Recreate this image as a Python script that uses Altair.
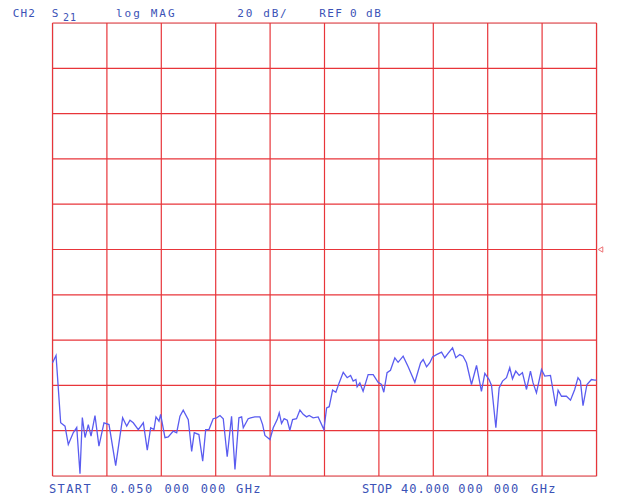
import altair as alt
import pandas as pd

# ---- trace data ----
freq_ghz = [0.05, 0.31, 0.65, 0.97, 1.21, 1.58, 1.83, 2.07, 2.24, 2.44,
            2.68, 2.88, 3.17, 3.46, 3.83, 4.20, 4.69, 5.20, 5.50, 5.74,
            5.98, 6.35, 6.72, 7.01, 7.26, 7.50, 7.65, 7.87, 7.99, 8.31,
            8.55, 8.92, 9.17, 9.41, 9.65, 10.02, 10.27, 10.46, 10.80, 11.08,
            11.30, 11.54, 11.85, 12.10, 12.35, 12.59, 12.88, 13.20, 13.45, 13.74,
            13.94, 14.06, 14.42, 14.60, 14.91, 15.28, 15.48, 15.65, 16.02, 16.26,
            16.55, 16.70, 16.87, 17.06, 17.29, 17.48, 17.68, 17.97, 18.22, 18.46,
            18.71, 18.90, 19.19, 19.56, 19.98, 20.18, 20.37, 20.62, 20.86, 21.10,
            21.40, 21.69, 21.94, 22.13, 22.33, 22.42, 22.62, 22.86, 23.23, 23.60,
            23.96, 24.21, 24.38, 24.62, 24.87, 25.19, 25.43, 25.80, 26.17, 26.66,
            27.08, 27.27, 27.52, 27.76, 27.96, 28.25, 28.62, 28.86, 29.10, 29.43,
            29.67, 29.96, 30.20, 30.45, 30.82, 31.19, 31.55, 31.80, 32.11, 32.29,
            32.61, 32.85, 33.10, 33.39, 33.63, 33.83, 34.07, 34.32, 34.56, 34.86,
            35.15, 35.34, 35.59, 35.96, 36.20, 36.62, 37.01, 37.18, 37.43, 37.79,
            38.09, 38.40, 38.64, 38.82, 39.01, 39.30, 39.63, 39.87, 40.0]

s21_db = [-50.0, -46.8, -76.5, -78.0, -86.1, -80.8, -78.6, -99.0, -74.2, -83.0,
          -77.3, -82.4, -73.3, -86.8, -76.5, -77.3, -95.4, -74.3, -78.0, -75.4,
          -76.5, -79.5, -76.5, -88.6, -78.7, -79.5, -73.9, -75.8, -72.8, -83.1,
          -82.7, -80.2, -80.9, -73.6, -70.9, -75.1, -89.1, -80.9, -81.7, -93.5,
          -79.5, -79.5, -74.7, -74.3, -73.3, -74.7, -91.5, -73.6, -97.1, -74.3,
          -73.9, -78.7, -74.7, -74.3, -73.9, -73.9, -77.3, -82.1, -83.9, -78.7,
          -75.1, -72.1, -76.8, -74.7, -75.4, -79.8, -75.1, -74.7, -70.9, -72.8,
          -73.9, -73.3, -74.3, -73.9, -79.5, -69.9, -69.4, -62.1, -63.0, -58.9,
          -54.2, -56.6, -55.6, -58.1, -57.4, -60.6, -58.9, -62.6, -55.2, -55.2,
          -58.6, -59.6, -63.0, -54.4, -53.3, -47.8, -49.8, -47.1, -51.8, -58.6,
          -50.0, -48.6, -51.8, -50.0, -47.4, -46.4, -45.3, -47.8, -45.9, -43.4,
          -47.8, -46.4, -47.1, -50.0, -59.6, -51.2, -62.6, -54.7, -57.4, -60.0,
          -78.7, -61.1, -58.1, -56.6, -52.2, -57.1, -53.7, -55.6, -54.4, -61.8,
          -53.7, -58.9, -63.3, -53.0, -55.9, -55.6, -69.2, -62.1, -64.8, -64.8,
          -66.5, -61.8, -56.6, -58.1, -68.9, -59.6, -57.4, -57.7, -57.7]

# ---- scale settings ----
start_ghz = 0.05
stop_ghz = 40.0
ref_db = 0
db_per_div = 20
n_div = 10

x_grid = [start_ghz + i * (stop_ghz - start_ghz) / n_div for i in range(n_div + 1)]
y_grid = [ref_db + (i - n_div // 2) * db_per_div for i in range(n_div + 1)]

# ---- annotation text (instrument header / footer) ----
header_words = ["CH2", "S", "21", "log", "MAG", "20", "dB/", "REF", "0", "dB"]
footer_words = ["START", "0.050", "000", "000", "GHz",
                "STOP", "40.000", "000", "000", "GHz"]

W, H = 544, 453
LEFT, TOP = 52.5, 23  # plot origin in page pixels (incl. 8px margin)

header_layout = [  # (x, baseline y, pitch, size) in page pixels
    (12.7, 17, 7.8, 11), (51.7, 17, 8.0, 11), (63.0, 20.5, 7.0, 10),
    (116.0, 17, 8.6, 11), (150.7, 17, 8.6, 11), (237.3, 17, 8.4, 11),
    (263.3, 17, 8.4, 11), (319.3, 17, 8.0, 11), (350.0, 17, 8.0, 11),
    (366.0, 17, 8.2, 11)]
footer_layout = [
    (49.0, 492.5, 8.6, 12), (110.5, 492.5, 8.6, 12), (164.6, 492.5, 8.6, 12),
    (200.7, 492.5, 8.6, 12), (236.1, 492.5, 8.6, 12),
    (362.0, 492.5, 7.6, 12), (401.0, 492.5, 8.2, 12), (458.3, 492.5, 8.6, 12),
    (493.7, 492.5, 8.6, 12), (531.1, 492.5, 8.6, 12)]

rows = []
for words, layout in ((header_words, header_layout), (footer_words, footer_layout)):
    for w, (x0, yb, pitch, size) in zip(words, layout):
        for i, ch in enumerate(w):
            rows.append({"ch": ch, "px": x0 + i * pitch - LEFT, "py": yb - TOP, "size": size})
text_df = pd.DataFrame(rows)

trace_df = pd.DataFrame({"f": freq_ghz, "db": s21_db})
grid_x_df = pd.DataFrame({"f": x_grid})
grid_y_df = pd.DataFrame({"db": y_grid})
ref_df = pd.DataFrame({"db": [ref_db]})

GRID = "#e8353a"
TRACE = "#5a5cf0"
TEXTC = "#3b52b6"

xs = alt.Scale(domain=[start_ghz, stop_ghz], nice=False, zero=False)
ys = alt.Scale(domain=[y_grid[0], y_grid[-1]], nice=False, zero=False)

vlines = alt.Chart(grid_x_df).mark_rule(color=GRID, strokeWidth=1.2).encode(
    x=alt.X("f:Q", scale=xs, axis=None))
hlines = alt.Chart(grid_y_df).mark_rule(color=GRID, strokeWidth=1.2).encode(
    y=alt.Y("db:Q", scale=ys, axis=None))

trace = alt.Chart(trace_df).mark_line(color=TRACE, strokeWidth=1.3).encode(
    x=alt.X("f:Q", scale=xs, axis=None),
    y=alt.Y("db:Q", scale=ys, axis=None))

marker = alt.Chart(ref_df).mark_point(
    shape="triangle-left", filled=False, color=GRID, size=28, strokeWidth=1
).encode(x=alt.value(W + 4), y=alt.Y("db:Q", scale=ys, axis=None))

texts = alt.Chart(text_df).mark_text(
    align="left", baseline="alphabetic", font="DejaVu Sans Mono", color=TEXTC
).encode(
    x=alt.X("px:Q", scale=None),
    y=alt.Y("py:Q", scale=None),
    text="ch:N",
    size=alt.Size("size:Q", scale=None, legend=None))

chart = alt.layer(vlines, hlines, trace, marker, texts).properties(
    width=W, height=H,
    autosize=alt.AutoSizeParams(type="none"),
    padding={"left": LEFT - 8, "top": TOP - 8, "right": 12, "bottom": 22},
).configure_view(stroke=None).configure(background="white")

chart.save("out.html", embed_options={"renderer": "svg", "actions": False})
